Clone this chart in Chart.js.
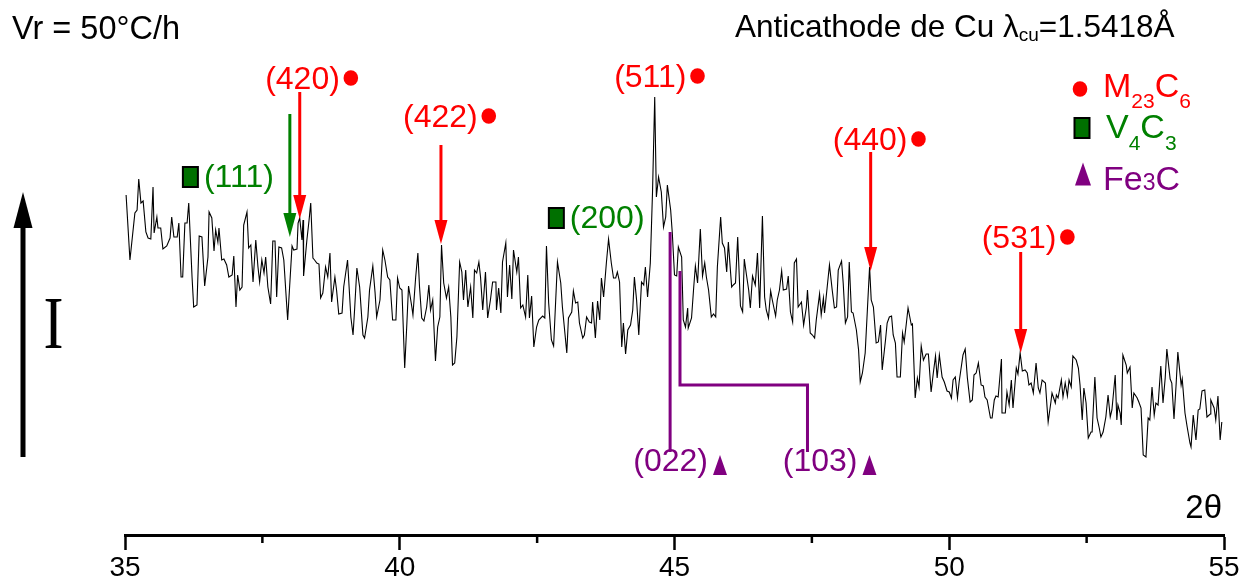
<!DOCTYPE html>
<html>
<head>
<meta charset="utf-8">
<script src="https://cdn.jsdelivr.net/npm/chart.js@4.4.1/dist/chart.umd.min.js"></script>
<style>
  html, body { margin: 0; padding: 0; background: #fff; }
  canvas { display: block; }
</style>
</head>
<body>
<canvas id="xrd" width="1250" height="587"></canvas>
<script>
// diffractogram, Cu K-alpha, 2θ in degrees / intensity in arbitrary units
const twoTheta = [
  35.02, 35.09, 35.18, 35.22, 35.25, 35.29, 35.33, 35.38, 35.42, 35.47, 35.51, 35.53, 35.58, 35.60, 35.65, 35.69, 35.76, 35.82, 35.85, 35.89,
  35.95, 35.98, 36.02, 36.05, 36.09, 36.13, 36.16, 36.22, 36.25, 36.31, 36.35, 36.40, 36.45, 36.51, 36.53, 36.58, 36.62, 36.65, 36.69, 36.71,
  36.76, 36.80, 36.85, 36.89, 36.95, 36.98, 37.02, 37.05, 37.09, 37.13, 37.16, 37.22, 37.25, 37.29, 37.33, 37.38, 37.42, 37.45, 37.49, 37.53,
  37.56, 37.60, 37.65, 37.69, 37.73, 37.76, 37.80, 37.85, 37.89, 37.96, 38.04, 38.07, 38.13, 38.15, 38.18, 38.22, 38.24, 38.25, 38.31, 38.35,
  38.38, 38.42, 38.45, 38.49, 38.53, 38.56, 38.60, 38.65, 38.69, 38.73, 38.76, 38.82, 38.85, 38.89, 38.95, 38.98, 39.05, 39.11, 39.15, 39.18,
  39.22, 39.27, 39.33, 39.36, 39.42, 39.45, 39.51, 39.55, 39.58, 39.64, 39.69, 39.73, 39.78, 39.82, 39.87, 39.93, 39.96, 40.00, 40.04, 40.09,
  40.13, 40.16, 40.22, 40.24, 40.29, 40.33, 40.36, 40.40, 40.44, 40.49, 40.53, 40.56, 40.60, 40.65, 40.69, 40.73, 40.76, 40.80, 40.85, 40.89,
  40.93, 40.96, 41.00, 41.04, 41.09, 41.13, 41.16, 41.20, 41.24, 41.29, 41.33, 41.36, 41.40, 41.44, 41.47, 41.51, 41.56, 41.60, 41.65, 41.69,
  41.75, 41.76, 41.80, 41.84, 41.87, 41.93, 41.96, 42.00, 42.04, 42.07, 42.13, 42.16, 42.20, 42.24, 42.29, 42.33, 42.36, 42.40, 42.44, 42.49,
  42.53, 42.60, 42.64, 42.67, 42.71, 42.76, 42.80, 42.87, 42.93, 42.96, 43.04, 43.07, 43.13, 43.16, 43.20, 43.24, 43.27, 43.33, 43.36, 43.40,
  43.45, 43.49, 43.51, 43.56, 43.60, 43.64, 43.67, 43.71, 43.76, 43.80, 43.85, 43.89, 43.93, 43.96, 44.00, 44.04, 44.07, 44.11, 44.15, 44.20,
  44.24, 44.27, 44.31, 44.35, 44.40, 44.44, 44.47, 44.51, 44.56, 44.60, 44.64, 44.67, 44.71, 44.76, 44.80, 44.84, 44.87, 44.93, 44.96, 45.00,
  45.04, 45.07, 45.13, 45.16, 45.20, 45.24, 45.25, 45.31, 45.35, 45.38, 45.42, 45.47, 45.51, 45.55, 45.58, 45.62, 45.67, 45.71, 45.75, 45.78,
  45.84, 45.87, 45.91, 45.95, 45.98, 46.04, 46.07, 46.11, 46.15, 46.20, 46.24, 46.27, 46.31, 46.35, 46.38, 46.42, 46.47, 46.51, 46.55, 46.60,
  46.64, 46.67, 46.71, 46.75, 46.78, 46.84, 46.87, 46.91, 46.95, 46.98, 47.04, 47.07, 47.11, 47.15, 47.18, 47.22, 47.25, 47.31, 47.35, 47.40,
  47.42, 47.47, 47.51, 47.55, 47.58, 47.64, 47.67, 47.71, 47.73, 47.76, 47.82, 47.87, 47.91, 47.95, 47.98, 48.04, 48.07, 48.11, 48.15, 48.18,
  48.22, 48.25, 48.31, 48.35, 48.38, 48.42, 48.47, 48.51, 48.55, 48.58, 48.62, 48.67, 48.71, 48.75, 48.78, 48.84, 48.87, 48.91, 48.95, 48.98,
  49.02, 49.05, 49.11, 49.15, 49.18, 49.22, 49.25, 49.31, 49.33, 49.38, 49.42, 49.45, 49.49, 49.53, 49.58, 49.62, 49.67, 49.71, 49.75, 49.78,
  49.82, 49.87, 49.91, 49.96, 50.00, 50.04, 50.07, 50.11, 50.15, 50.18, 50.25, 50.29, 50.33, 50.38, 50.42, 50.45, 50.49, 50.53, 50.58, 50.62,
  50.65, 50.69, 50.75, 50.78, 50.82, 50.85, 50.89, 50.95, 50.96, 51.02, 51.05, 51.09, 51.13, 51.16, 51.22, 51.25, 51.29, 51.33, 51.38, 51.42,
  51.45, 51.49, 51.53, 51.58, 51.62, 51.65, 51.69, 51.75, 51.78, 51.80, 51.85, 51.87, 51.93, 51.95, 51.98, 52.04, 52.07, 52.11, 52.15, 52.18,
  52.22, 52.25, 52.31, 52.35, 52.38, 52.42, 52.45, 52.49, 52.53, 52.58, 52.60, 52.65, 52.69, 52.73, 52.76, 52.80, 52.85, 52.89, 52.93, 52.96,
  53.02, 53.05, 53.07, 53.11, 53.13, 53.16, 53.22, 53.24, 53.29, 53.33, 53.36, 53.42, 53.45, 53.49, 53.53, 53.58, 53.62, 53.65, 53.69, 53.73,
  53.76, 53.80, 53.85, 53.89, 53.93, 53.96, 54.02, 54.05, 54.09, 54.13, 54.16, 54.22, 54.24, 54.29, 54.33, 54.38, 54.40, 54.44, 54.49, 54.53,
  54.56, 54.60, 54.65, 54.69, 54.75, 54.76, 54.82, 54.85, 54.89, 54.93, 54.96
];
const intensity = [
  345, 280, 327, 330, 361, 337, 339, 308, 302, 301, 353, 307, 323, 312, 312, 291, 294, 302, 323, 303,
  303, 317, 263, 263, 317, 317, 337, 263, 233, 235, 304, 303, 254, 283, 328, 322, 289, 310, 298, 312,
  280, 281, 275, 263, 265, 284, 233, 265, 250, 253, 315, 328, 292, 295, 258, 300, 273, 258, 280, 267,
  283, 253, 236, 299, 299, 243, 293, 292, 280, 220, 294, 290, 291, 317, 322, 300, 320, 264, 300, 320,
  337, 282, 280, 277, 276, 242, 247, 273, 263, 287, 238, 263, 250, 226, 227, 253, 280, 223, 205, 232,
  272, 253, 205, 202, 223, 250, 274, 248, 223, 240, 290, 280, 263, 260, 220, 220, 262, 252, 250, 172,
  217, 254, 233, 225, 263, 287, 253, 222, 219, 233, 255, 230, 240, 179, 213, 223, 295, 257, 242, 253,
  223, 175, 177, 203, 278, 268, 240, 270, 233, 253, 222, 270, 267, 278, 263, 230, 268, 222, 240, 258,
  258, 230, 252, 227, 278, 297, 243, 275, 241, 290, 268, 283, 232, 235, 223, 265, 222, 244, 193, 213,
  220, 224, 222, 294, 237, 200, 194, 278, 257, 233, 187, 222, 228, 249, 237, 238, 217, 202, 205, 223,
  218, 217, 238, 202, 239, 220, 262, 243, 277, 301, 277, 262, 262, 268, 258, 193, 217, 186, 210, 215,
  230, 263, 240, 205, 258, 255, 273, 243, 277, 348, 443, 343, 363, 348, 313, 323, 355, 330, 307, 265,
  264, 293, 283, 220, 213, 232, 212, 222, 253, 274, 257, 311, 264, 277, 263, 250, 223, 226, 223, 273,
  323, 297, 292, 268, 298, 253, 255, 257, 303, 234, 228, 281, 265, 250, 232, 264, 255, 287, 232, 324,
  243, 230, 222, 249, 240, 224, 240, 250, 269, 250, 251, 264, 228, 218, 277, 281, 233, 238, 215, 233,
  250, 207, 205, 202, 220, 246, 225, 242, 227, 243, 275, 250, 232, 233, 270, 279, 257, 217, 223, 278,
  228, 227, 210, 190, 158, 167, 187, 230, 273, 240, 233, 197, 198, 215, 170, 200, 217, 223, 224, 205,
  197, 163, 163, 207, 198, 217, 232, 215, 216, 142, 162, 153, 194, 180, 186, 186, 148, 167, 184, 162,
  185, 163, 158, 149, 148, 142, 160, 163, 142, 158, 185, 191, 162, 138, 140, 165, 167, 177, 155, 154,
  143, 140, 122, 122, 140, 144, 143, 181, 127, 127, 148, 135, 160, 132, 172, 166, 187, 169, 170, 167,
  155, 157, 147, 177, 152, 147, 160, 157, 133, 118, 138, 147, 137, 145, 142, 160, 143, 157, 144, 160,
  153, 184, 180, 172, 155, 120, 152, 137, 102, 108, 108, 163, 122, 112, 103, 108, 123, 145, 123, 130,
  165, 120, 135, 127, 115, 185, 175, 167, 173, 132, 147, 142, 138, 132, 85, 83, 122, 120, 153, 125,
  137, 135, 174, 137, 162, 191, 161, 157, 121, 157, 188, 155, 161, 127, 113, 97, 93, 125, 100, 130,
  131, 149, 150, 123, 126, 140, 132, 120, 144, 100, 118
];

// axis range and labelled ticks
const xMin = 35, xMax = 55;
const xMajor = [35, 40, 45, 50, 55];
const xMinor = [37.5, 42.5, 47.5, 52.5];

// indexed reflections
const m23c6Hkl   = ['(420)', '(422)', '(511)', '(440)', '(531)'];
const m23c6Theta = [38.18, 40.75, 44.64, 48.57, 51.30];
const v4c3Hkl    = ['(111)', '(200)'];
const v4c3Theta  = [38.00, 43.60];
const fe3cHkl    = ['(022)', '(103)'];
const fe3cTheta  = [44.92, 45.10];

const RED = '#ff0000', GREEN = '#008000', PURPLE = '#800080', SQ_GREEN = '#007000';
const SANS = '"Liberation Sans", Arial, sans-serif';
const SERIF = '"Liberation Serif", "Times New Roman", serif';

// where each annotation sits, in (2θ, intensity) units
const m23c6Place = [
  { label: [38.23, 460], arrow: [448, 321] },
  { label: [40.74, 422], arrow: [395, 296] },
  { label: [44.56, 462], arrow: null },
  { label: [48.56, 399], arrow: [388, 269] },
  { label: [51.27, 301], arrow: [288, 187] }
];
const v4c3Place = [
  { marker: [36.19, 363], arrow: [426, 303] },
  { marker: [42.85, 322], arrow: null }
];
const fe3cLabel = [[44.93, 78], [47.65, 78]];

function downArrow(ctx, x, yTop, yTip, color) {
  const headLen = 24, half = 6.5;
  ctx.save();
  ctx.strokeStyle = color;
  ctx.fillStyle = color;
  ctx.lineWidth = 3;
  ctx.beginPath();
  ctx.moveTo(x, yTop);
  ctx.lineTo(x, yTip - headLen + 2);
  ctx.stroke();
  ctx.beginPath();
  ctx.moveTo(x - half, yTip - headLen);
  ctx.lineTo(x + half, yTip - headLen);
  ctx.lineTo(x, yTip);
  ctx.closePath();
  ctx.fill();
  ctx.restore();
}

function redDot(ctx, x, y) {
  ctx.fillStyle = RED;
  ctx.beginPath();
  ctx.ellipse(x, y, 7.3, 7.8, 0, 0, Math.PI * 2);
  ctx.fill();
}

function greenSquare(ctx, x, y) {
  ctx.fillStyle = SQ_GREEN;
  ctx.fillRect(x - 7.5, y - 10, 15, 20);
  ctx.strokeStyle = '#000';
  ctx.lineWidth = 2;
  ctx.strokeRect(x - 7.5, y - 10, 15, 20);
}

function purpleTriangle(ctx, x, y, w, h) {
  ctx.fillStyle = PURPLE;
  ctx.beginPath();
  ctx.moveTo(x, y - h / 2);
  ctx.lineTo(x + w / 2, y + h / 2);
  ctx.lineTo(x - w / 2, y + h / 2);
  ctx.closePath();
  ctx.fill();
}

// text runs: [string, font size, baseline shift]
function richText(ctx, x, y, runs, color) {
  ctx.save();
  ctx.fillStyle = color;
  ctx.textAlign = 'left';
  ctx.textBaseline = 'alphabetic';
  runs.forEach(([s, size, dy]) => {
    ctx.font = size + 'px ' + SANS;
    ctx.fillText(s, x, y + dy);
    x += ctx.measureText(s).width;
  });
  ctx.restore();
  return x;
}

const annotate = {
  id: 'annotate',
  afterDraw(chart) {
    const ctx = chart.ctx;
    const xs = chart.scales.x, ys = chart.scales.y;
    const X = v => xs.getPixelForValue(v);
    const Y = v => ys.getPixelForValue(v);
    const bottom = chart.chartArea.bottom;

    ctx.save();

    // minor ticks, shorter than the labelled ones
    ctx.strokeStyle = '#000';
    ctx.lineWidth = 2.5;
    xMinor.forEach(v => {
      ctx.beginPath();
      ctx.moveTo(X(v), bottom);
      ctx.lineTo(X(v), bottom + 8);
      ctx.stroke();
    });

    ctx.font = '32px ' + SANS;
    ctx.textBaseline = 'middle';

    // M23C6
    m23c6Hkl.forEach((hkl, i) => {
      const p = m23c6Place[i];
      if (p.arrow) downArrow(ctx, X(m23c6Theta[i]), Y(p.arrow[0]), Y(p.arrow[1]), RED);
      const cx = X(p.label[0]), cy = Y(p.label[1]);
      ctx.fillStyle = RED;
      ctx.textAlign = 'center';
      ctx.fillText(hkl, cx, cy);
      const w = ctx.measureText(hkl).width;
      redDot(ctx, cx + w / 2 + 11, cy - 2);
    });

    // V4C3
    v4c3Hkl.forEach((hkl, i) => {
      const p = v4c3Place[i];
      if (p.arrow) downArrow(ctx, X(v4c3Theta[i]), Y(p.arrow[0]), Y(p.arrow[1]), GREEN);
      const mx = X(p.marker[0]), my = Y(p.marker[1]);
      greenSquare(ctx, mx, my);
      ctx.fillStyle = GREEN;
      ctx.textAlign = 'left';
      ctx.fillText(hkl, mx + 13.5, my + 1);
    });

    // Fe3C: straight line for (022), stepped line for (103)
    ctx.strokeStyle = PURPLE;
    ctx.lineWidth = 3;
    ctx.beginPath();
    ctx.moveTo(X(fe3cTheta[0]), Y(308));
    ctx.lineTo(X(fe3cTheta[0]), Y(88));
    ctx.stroke();
    ctx.beginPath();
    ctx.moveTo(X(fe3cTheta[1]), Y(269));
    ctx.lineTo(X(fe3cTheta[1]), Y(155));
    ctx.lineTo(X(47.42), Y(155));
    ctx.lineTo(X(47.42), Y(88));
    ctx.stroke();
    fe3cHkl.forEach((hkl, i) => {
      const cx = X(fe3cLabel[i][0]), cy = Y(fe3cLabel[i][1]);
      ctx.fillStyle = PURPLE;
      ctx.textAlign = 'center';
      ctx.fillText(hkl, cx, cy);
      const w = ctx.measureText(hkl).width;
      purpleTriangle(ctx, cx + w / 2 + 12, cy + 3, 14, 20);
    });

    // legend
    redDot(ctx, 1080, 89);
    richText(ctx, 1103, 97, [['M', 34, 0], ['23', 21, 11], ['C', 34, 0], ['6', 21, 11]], RED);
    greenSquare(ctx, 1082, 128);
    richText(ctx, 1106, 138, [['V', 34, 0], ['4', 21, 12], ['C', 34, 0], ['3', 21, 12]], GREEN);
    purpleTriangle(ctx, 1083, 174, 16, 23);
    richText(ctx, 1103, 190, [['Fe', 34, 0], ['3', 23, 0], ['C', 34, 0]], PURPLE);

    // header texts
    richText(ctx, 12, 39, [['Vr = 50°C/h', 32.5, 0]], '#000');
    richText(ctx, 735, 37, [['Anticathode de Cu λ', 31.5, 0], ['cu', 19, 4], ['=1.5418Å', 31.5, 0]], '#000');

    // axis title
    ctx.fillStyle = '#000';
    ctx.font = '33px ' + SANS;
    ctx.textAlign = 'right';
    ctx.textBaseline = 'alphabetic';
    ctx.fillText('2θ', 1222, 518);

    // intensity arrow on the left
    ctx.strokeStyle = '#000';
    ctx.fillStyle = '#000';
    ctx.lineWidth = 5;
    ctx.beginPath();
    ctx.moveTo(23, 457);
    ctx.lineTo(23, 226);
    ctx.stroke();
    ctx.beginPath();
    ctx.moveTo(13.5, 228);
    ctx.lineTo(32.5, 228);
    ctx.lineTo(23, 192);
    ctx.closePath();
    ctx.fill();

    ctx.translate(53.5, 348);
    ctx.scale(0.8, 1);
    ctx.font = '75px ' + SERIF;
    ctx.textAlign = 'center';
    ctx.fillText('I', 0, 0);

    ctx.restore();
  }
};

new Chart(document.getElementById('xrd'), {
  type: 'line',
  data: {
    datasets: [{
      data: twoTheta.map((t, i) => ({ x: t, y: intensity[i] })),
      borderColor: '#000',
      borderWidth: 1.1,
      pointRadius: 0,
      tension: 0,
      fill: false
    }]
  },
  options: {
    responsive: false,
    animation: false,
    layout: { padding: { left: 125, right: 26, top: 10, bottom: 1 } },
    plugins: { legend: { display: false }, tooltip: { enabled: false } },
    scales: {
      x: {
        type: 'linear',
        min: xMin,
        max: xMax,
        afterBuildTicks: axis => {
          axis.ticks = xMajor.map(v => ({ value: v }));
        },
        ticks: {
          color: '#000',
          font: { size: 28, family: SANS, lineHeight: 1 },
          padding: 4,
          maxRotation: 0,
          autoSkip: false
        },
        grid: {
          drawOnChartArea: false,
          drawTicks: true,
          tickLength: 15,
          tickWidth: 2.5,
          tickColor: '#000'
        },
        border: { display: true, color: '#000', width: 3 }
      },
      y: { display: false, min: 5, max: 530 }
    }
  },
  plugins: [annotate]
});
</script>
</body>
</html>
